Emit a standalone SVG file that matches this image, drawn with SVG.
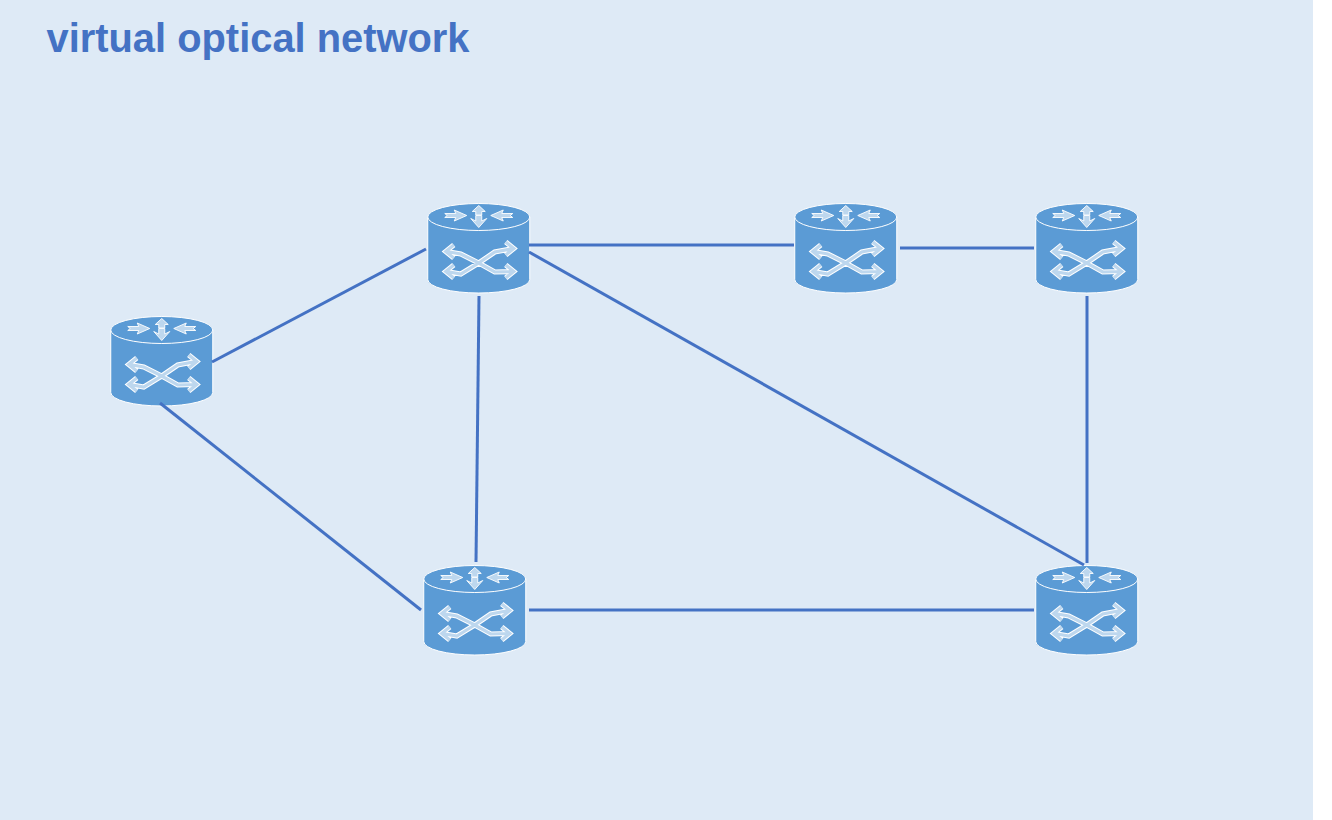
<svg xmlns="http://www.w3.org/2000/svg" width="1332" height="820" viewBox="0 0 1332 820">
<style>
.bg{fill:#DEEAF6}
.title{font-family:"Liberation Sans",Arial,sans-serif;font-weight:bold;font-size:40px;fill:#4472C4}
.link{stroke:#4472C4;stroke-width:3;fill:none}
.body{fill:#5B9BD5;stroke:#FFFFFF;stroke-width:1}
.ao{fill:none;stroke:#FFFFFF;stroke-width:5.2;stroke-linejoin:miter}
.ai{fill:none;stroke:#BDD7EE;stroke-width:3.2;stroke-linejoin:miter}
.sa{fill:#BDD7EE;stroke:#FFFFFF;stroke-width:.9;stroke-linejoin:round}
</style>
<defs>
<path id="xp" d="M19 48.500L33 51L51 60L67 49L85 45.500M19 68.500L33 71L51 60L67 69L85 68.500M26 42L18 48.500L26 55M26 62L18 68.500L26 75M78 39L86 45.500L78 52M78 62L86 68.500L78 75"/>
<g id="node">
<path class="body" d="M0 14V76.500A51 13.500 0 0 0 102 76.500V14Z"/>
<ellipse class="body" cx="51" cy="14" rx="51" ry="13.500"/>
<use href="#xp" class="ao"/>
<use href="#xp" class="ai"/>
<path class="sa" d="M17 10.500H28L26.500 7L39 12.500L26.500 18L28 14.500H17L19.500 12.500Z"/>
<path class="sa" d="M85 10.500H74L75.500 7L63 12.500L75.500 18L74 14.500H85L82.500 12.500Z"/>
<path class="sa" d="M51 2.500L57.500 8.500H54V12H48V8.500H44.500Z"/>
<path class="sa" d="M48 12.500H54V18L59 15.500L51 24.500L43 15.500L48 18Z"/>
</g>
</defs>
<rect class="bg" x="0" y="0" width="1313" height="820"/>
<text class="title" x="46.500" y="52" textLength="423" lengthAdjust="spacingAndGlyphs">virtual optical network</text>
<g id="node-west" transform="translate(110.750 316)"><use href="#node"/></g>
<g id="node-north-1" transform="translate(427.750 203)"><use href="#node"/></g>
<g id="node-north-2" transform="translate(794.750 203)"><use href="#node"/></g>
<g id="node-north-3" transform="translate(1035.750 203)"><use href="#node"/></g>
<g id="node-south-1" transform="translate(423.750 565)"><use href="#node"/></g>
<g id="node-south-2" transform="translate(1035.750 565)"><use href="#node"/></g>
<g id="connectors">
<line class="link" x1="212" y1="362" x2="426" y2="249"/>
<line class="link" x1="160" y1="403" x2="421" y2="610"/>
<line class="link" x1="479" y1="296" x2="476" y2="562"/>
<line class="link" x1="529" y1="245" x2="794" y2="245"/>
<line class="link" x1="900" y1="248" x2="1034" y2="248"/>
<line class="link" x1="529" y1="252" x2="1084" y2="565"/>
<line class="link" x1="1087" y1="296" x2="1087" y2="563"/>
<line class="link" x1="529" y1="610" x2="1034" y2="610"/>
</g>
</svg>
